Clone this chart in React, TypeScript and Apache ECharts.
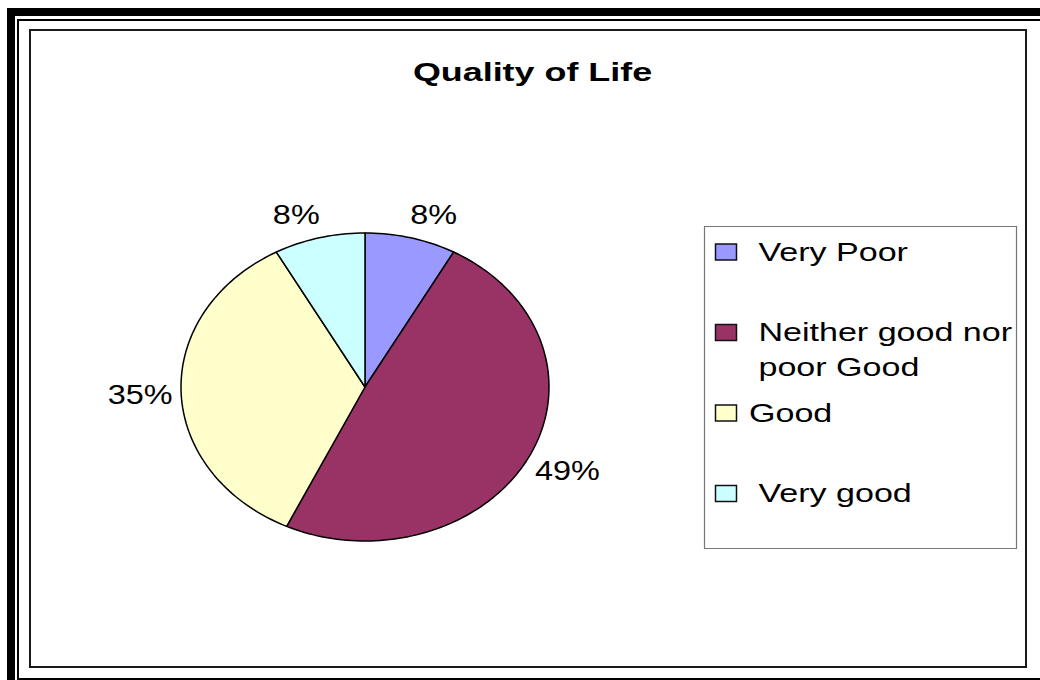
import { useEffect, useRef } from "react";
import * as echarts from "echarts";

// ---- data ----
const chartTitle = "Quality of Life";
const categories = [" Very Poor", " Neither good nor poor Good", "Good", " Very good"];
const percents = [8, 49, 35, 8];
const palette = ["#9999FF", "#993366", "#FFFFCC", "#CCFFFF"];

// ---- layout ----
const W = 1040;
const H = 680;
const PIE = { cx: 365, cy: 387, rx: 184, ry: 154 };
const LEGEND = { x: 704.5, y: 226.5, w: 312, h: 322 };
const FONT = '"Liberation Sans", Arial, Helvetica, sans-serif';

export default function App() {
  const ref = useRef<HTMLDivElement>(null);

  useEffect(() => {
    const chart = echarts.init(ref.current!, null, { renderer: "svg" });
    const total = percents.reduce((a, b) => a + b, 0);
    const starts: number[] = [];
    let acc = 0;
    percents.forEach((v) => {
      starts.push(acc);
      acc += v;
    });

    const series = categories.map((name, i) => ({
      type: "custom",
      name,
      coordinateSystem: "none",
      data: [percents[i]],
      renderItem: (_params: any, api: any) => {
        const v = api.value(0) as number;
        const t0 = (starts[i] / total) * Math.PI * 2;
        const t1 = t0 + (v / total) * Math.PI * 2;
        const n = Math.max(2, Math.ceil((t1 - t0) / (Math.PI / 120)));
        const pts: number[][] = [[PIE.cx, PIE.cy]];
        for (let k = 0; k <= n; k++) {
          const t = t0 + ((t1 - t0) * k) / n;
          pts.push([PIE.cx + PIE.rx * Math.sin(t), PIE.cy - PIE.ry * Math.cos(t)]);
        }
        const tm = (t0 + t1) / 2;
        const s = Math.sin(tm);
        const c = Math.cos(tm);
        const lx = PIE.cx + (PIE.rx + 24) * s + 17 * Math.sign(s);
        const ly = PIE.cy - (PIE.ry + 26) * c + 2;
        return {
          type: "group",
          children: [
            {
              type: "polygon",
              shape: { points: pts },
              style: { fill: palette[i], stroke: "#000", lineWidth: 1.5, lineJoin: "round" },
            },
            {
              type: "text",
              x: lx,
              y: ly,
              scaleX: 1.2,
              style: {
                text: Math.round((v / total) * 100) + "%",
                fontSize: 27,
                fontFamily: FONT,
                fill: "#000",
                align: "center",
                textAlign: "center",
                verticalAlign: "middle",
                textVerticalAlign: "middle",
              },
            },
          ],
        };
      },
    }));

    const slot = LEGEND.h / categories.length;
    const legendEls: any[] = [];
    categories.forEach((name, i) => {
      const yc = LEGEND.y + 25.5 + i * slot;
      legendEls.push({
        type: "rect",
        shape: { x: 715.5, y: yc - 8, width: 21, height: 16 },
        style: { fill: palette[i], stroke: "#111", lineWidth: 1.5 },
      });
      legendEls.push({
        type: "text",
        x: 749,
        y: yc - 17,
        scaleX: 1.31,
        style: {
          text: name,
          width: 205,
          overflow: "break",
          lineHeight: 34,
          fontSize: 26,
          fontFamily: FONT,
          fill: "#000",
          align: "left",
          textAlign: "left",
          verticalAlign: "top",
          textVerticalAlign: "top",
        },
      });
    });

    chart.setOption({
      animation: false,
      backgroundColor: "#fff",
      graphic: [
        { type: "rect", shape: { x: 7, y: 8, width: 8, height: 700 }, style: { fill: "#000" } },
        { type: "rect", shape: { x: 7, y: 8, width: 1040, height: 8 }, style: { fill: "#000" } },
        {
          type: "rect",
          shape: { x: 18, y: 20, width: 1040, height: 659 },
          style: { fill: "none", stroke: "#000", lineWidth: 2 },
        },
        {
          type: "rect",
          shape: { x: 30, y: 30, width: 996, height: 637 },
          style: { fill: "none", stroke: "#1a1a1a", lineWidth: 2 },
        },
        {
          type: "text",
          x: 532.5,
          y: 72,
          scaleX: 1.38,
          style: {
            text: chartTitle,
            fontSize: 26,
            fontWeight: "bold",
            fontFamily: FONT,
            fill: "#000",
            align: "center",
            textAlign: "center",
            verticalAlign: "middle",
            textVerticalAlign: "middle",
          },
        },
        {
          type: "rect",
          shape: { x: LEGEND.x, y: LEGEND.y, width: LEGEND.w, height: LEGEND.h },
          style: { fill: "#fff", stroke: "#777", lineWidth: 1.2 },
        },
        ...legendEls,
      ],
      series,
    } as any);

    return () => chart.dispose();
  }, []);

  return (
    <div
      ref={ref}
      style={{ position: "absolute", left: 0, top: 0, width: W, height: H }}
    />
  );
}
